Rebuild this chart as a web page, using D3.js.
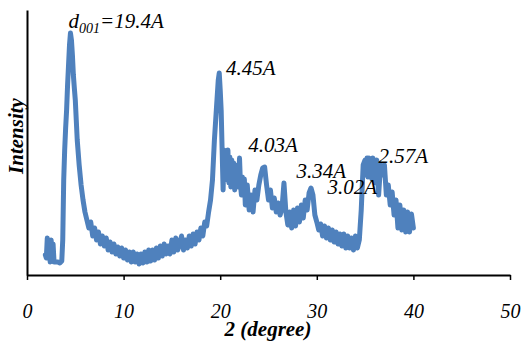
<!DOCTYPE html>
<html>
<head>
<meta charset="utf-8">
<script src="https://cdn.jsdelivr.net/npm/d3@7"></script>
<style>
  html, body { margin: 0; padding: 0; background: #fff; }
  svg { display: block; }
</style>
</head>
<body>
<svg id="chart" width="522" height="344"></svg>
<script>
// 2θ values (degrees)
const twoTheta = [
  1.9, 2.0, 2.1, 2.2, 2.3, 2.4, 2.5, 2.6, 2.7, 2.8, 3.0, 3.2, 3.4, 3.6, 3.7, 3.8, 3.9,
  4.0, 4.1, 4.2, 4.3, 4.4, 4.5, 4.6, 4.7, 4.8, 4.9, 5.0, 5.1, 5.2, 5.4, 5.6, 5.8,
  6.0, 6.2, 6.4, 6.6, 6.8, 7.0, 7.2, 7.4, 7.6, 7.8, 8.0, 8.2, 8.4, 8.6, 8.8,
  9.0, 9.2, 9.4, 9.6, 9.8, 10.0, 10.2, 10.4, 10.6, 10.8, 11.0, 11.2, 11.4, 11.6, 11.8,
  12.0, 12.2, 12.4, 12.6, 12.8, 13.0, 13.2, 13.4, 13.6, 13.8, 14.0, 14.2, 14.4, 14.6, 14.8,
  15.0, 15.2, 15.4, 15.6, 15.8, 16.0, 16.2, 16.4, 16.6, 16.8, 17.0, 17.2, 17.4, 17.6, 17.8,
  18.0, 18.2, 18.4, 18.6, 18.8, 19.0, 19.2, 19.4, 19.6, 19.8, 19.9, 20.0, 20.1, 20.2, 20.3,
  20.4, 20.5, 20.6, 20.7, 20.8, 20.9, 21.0, 21.1, 21.2, 21.3, 21.4, 21.5, 21.6, 21.7, 21.8, 21.9,
  22.0, 22.1, 22.2, 22.3, 22.4, 22.5, 22.6, 22.7, 22.8,
  23.0, 23.2, 23.4, 23.6, 23.8, 24.0, 24.2, 24.4, 24.6, 24.8, 25.0, 25.2, 25.4, 25.6, 25.8,
  26.0, 26.2, 26.4, 26.6, 26.8, 27.0, 27.2, 27.4, 27.6, 27.8, 28.0, 28.2, 28.4, 28.6, 28.8,
  29.0, 29.2, 29.4, 29.6, 29.8, 30.0, 30.2, 30.4, 30.6, 30.8, 31.0, 31.2, 31.4, 31.6, 31.8,
  32.0, 32.2, 32.4, 32.6, 32.8, 33.0, 33.2, 33.4, 33.6, 33.8, 34.0, 34.2, 34.4, 34.6, 34.8,
  35.0, 35.1, 35.2, 35.3, 35.4, 35.5, 35.6, 35.7, 35.8, 35.9, 36.0, 36.1, 36.2, 36.4, 36.6, 36.8, 37.0, 37.2, 37.4, 37.6, 37.8,
  38.0, 38.2, 38.4, 38.6, 38.8, 39.0, 39.2, 39.4, 39.6, 39.8, 40.0
];
// Intensity (arbitrary units)
const intensity = [
  20, 17, 37, 17, 25, 13, 35, 19, 31, 13, 13, 13, 12, 14, 35, 95, 125,
  147, 165, 190, 210, 230, 242, 235, 220, 200, 187, 175, 155, 135, 110, 90, 75,
  63, 55, 47, 53, 39, 47, 35, 43, 31, 39, 29, 37, 25, 33, 23,
  31, 21, 28, 19, 27, 17, 25, 15, 23, 13, 23, 13, 21, 11, 21,
  12, 23, 13, 25, 14, 25, 15, 27, 17, 29, 19, 31, 21, 29, 21,
  35, 23, 37, 25, 31, 39, 25, 35, 27, 39, 29, 41, 31, 43, 35,
  47, 39, 53, 49, 63, 75, 95, 135, 165, 195, 202, 185, 165, 125, 85,
  125, 95, 122, 98, 125, 92, 118, 88, 115, 90, 112, 85, 110, 92, 100, 88,
  117, 90, 80, 98, 86, 96, 70, 88, 90,
  65, 80, 63, 85, 75, 90, 100, 107, 108, 90, 75, 85, 67, 77, 63,
  72, 60, 67, 92, 63, 50, 63, 47, 65, 49, 67, 53, 70, 57, 75,
  65, 82, 87, 80, 60, 53, 45, 51, 39, 49, 37, 47, 35, 45, 33,
  43, 31, 41, 29, 41, 27, 39, 27, 37, 25, 39, 27, 35, 65, 110,
  115, 100, 117, 98, 117, 102, 115, 96, 117, 100, 113, 92, 115, 80, 110, 100, 110, 80, 90, 70, 83,
  60, 75, 47, 70, 45, 65, 43, 63, 43, 61, 47
];
const xTicks = [0, 10, 20, 30, 40, 50];
const peakLabels = [
  { x: 4.3,  y: 247, main: "d", sub: "001", rest: "=19.4A" },
  { x: 20.6, y: 200, main: "4.45A" },
  { x: 22.9, y: 123, main: "4.03A" },
  { x: 27.9, y: 97,  main: "3.34A" },
  { x: 31.1, y: 81,  main: "3.02A" },
  { x: 36.4, y: 112, main: "2.57A" }
];

const SERIF = "Times New Roman, serif";
const data = twoTheta.map((t, i) => ({ t, v: intensity[i] }));
const svg = d3.select("#chart").attr("font-family", SERIF);

const x = d3.scaleLinear().domain([0, 50]).range([27, 510]);
const y = d3.scaleLinear().domain([0, 265]).range([275, 10]);

// data line
svg.append("path")
  .datum(data)
  .attr("fill", "none")
  .attr("stroke", "#4f81bd")
  .attr("stroke-width", 5)
  .attr("stroke-linejoin", "round")
  .attr("stroke-linecap", "round")
  .attr("d", d3.line().x(d => x(d.t)).y(d => y(d.v)));

// x axis
const gx = svg.append("g")
  .attr("transform", "translate(0,275)")
  .call(d3.axisBottom(x).tickValues(xTicks).tickSize(5).tickSizeOuter(0).tickFormat(d3.format("d")));
gx.attr("font-family", SERIF);
gx.select(".domain").attr("stroke", "#000").attr("stroke-width", 2);
gx.selectAll(".tick line").attr("stroke", "#000").attr("stroke-width", 1.5);
gx.selectAll(".tick text")
  .attr("dy", null)
  .attr("y", 43)
  .attr("fill", "#000")
  .attr("font-family", SERIF)
  .attr("font-style", "italic")
  .attr("font-size", 20);

// y axis (no ticks)
const gy = svg.append("g")
  .attr("transform", "translate(27,0)")
  .call(d3.axisLeft(y).tickValues([]).tickSizeOuter(0));
gy.select(".domain").attr("stroke", "#000").attr("stroke-width", 2);

// axis titles
svg.append("text")
  .attr("x", 268).attr("y", 336)
  .attr("text-anchor", "middle")
  .attr("font-family", SERIF)
  .attr("font-weight", "bold").attr("font-style", "italic").attr("font-size", 21)
  .text("2 (degree)");

svg.append("text")
  .attr("transform", "translate(23,136) rotate(-90)")
  .attr("text-anchor", "middle")
  .attr("font-family", SERIF)
  .attr("font-weight", "bold").attr("font-style", "italic").attr("font-size", 21)
  .text("Intensity");

// peak annotations
peakLabels.forEach(p => {
  const t = svg.append("text")
    .attr("x", x(p.x)).attr("y", y(p.y))
    .attr("font-family", SERIF)
    .attr("font-style", "italic").attr("font-size", 21);
  t.append("tspan").text(p.main);
  if (p.sub) {
    t.append("tspan").attr("dy", 5).attr("font-size", 14).text(p.sub);
    t.append("tspan").attr("dy", -5).text(p.rest);
  }
});
</script>
</body>
</html>
